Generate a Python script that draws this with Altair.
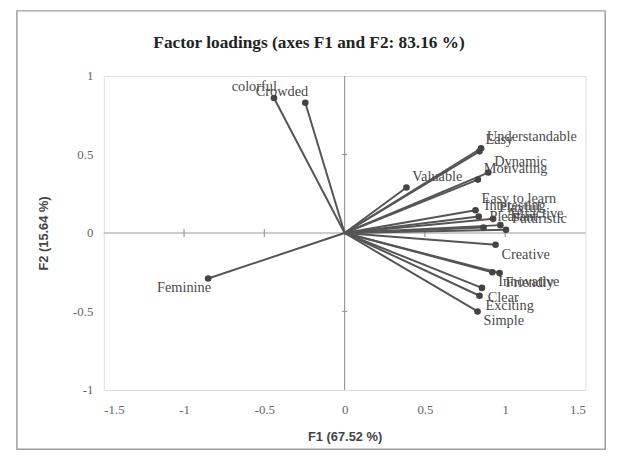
import altair as alt
import pandas as pd

names = ["colorful", "Crowded", "Feminine", "Valuable", "Easy", "Understandable",
         "Motivating", "Dynamic", "Easy to learn", "Interesting", "Playful", "Pleasant",
         "Attractive", "Futuristic", "Creative", "Innovative", "Friendly", "Clear",
         "Exciting", "Simple"]
f1 = [-0.44, -0.245, -0.85, 0.385, 0.84, 0.85, 0.83, 0.895, 0.815, 0.835, 0.925, 0.865,
      0.97, 1.005, 0.94, 0.92, 0.965, 0.855, 0.84, 0.828]
f2 = [0.86, 0.83, -0.29, 0.29, 0.52, 0.54, 0.34, 0.385, 0.145, 0.105, 0.09, 0.035,
      0.05, 0.02, -0.075, -0.25, -0.255, -0.35, -0.40, -0.50]

title_text = "Factor loadings (axes F1 and F2: 83.16 %)"
x_ticks = [-1.5, -1, -0.5, 0, 0.5, 1, 1.5]
y_ticks = [-1, -0.5, 0, 0.5, 1]
x_cross = [-1, -0.5, 0.5, 1]
y_cross = [-0.5, 0.5]

df = pd.DataFrame({"name": names, "F1": f1, "F2": f2})
df["x0"] = 0.0
df["y0"] = 0.0

grey = "#555555"
serif = "Liberation Serif"

xs = alt.Scale(domain=[-1.5, 1.5], nice=False, zero=False)
ys = alt.Scale(domain=[-1, 1], nice=False, zero=False)

xaxis = alt.Axis(values=x_ticks, grid=False, ticks=False, domain=False,
                 labelExpr="datum.value + ''", labelFont=serif, labelFontSize=13,
                 labelColor="#666", labelPadding=14, title="F1 (67.52 %)",
                 titleFont="Liberation Sans", titleFontSize=13, titleFontWeight="bold",
                 titleColor="#444", titlePadding=14)
yaxis = alt.Axis(values=y_ticks, grid=False, ticks=False, domain=False,
                 labelExpr="datum.value + ''", labelFont=serif, labelFontSize=13,
                 labelColor="#666", labelPadding=11, title="F2 (15.64 %)",
                 titleFont="Liberation Sans", titleFontSize=13, titleFontWeight="bold",
                 titleColor="#444", titlePadding=22)

base = alt.Chart(df)

frame = alt.Chart(pd.DataFrame({"a": [0]})).mark_rect(
    fill=None, stroke="#a0a0a0", strokeWidth=1.5
).encode(x=alt.value(-88), x2=alt.value(508), y=alt.value(-66), y2=alt.value(378))

title = alt.Chart(pd.DataFrame({"t": [title_text]})).mark_text(
    font=serif, fontSize=17.5, fontWeight="bold", color="#222", align="center",
    baseline="middle"
).encode(text="t:N", x=alt.value(208), y=alt.value(-33))

zero_v = alt.Chart(pd.DataFrame({"v": [0]})).mark_rule(color="#999", strokeWidth=1.2).encode(
    x=alt.X("v:Q", scale=xs, axis=xaxis))
zero_h = alt.Chart(pd.DataFrame({"v": [0]})).mark_rule(color="#999", strokeWidth=1.2).encode(
    y=alt.Y("v:Q", scale=ys, axis=yaxis))

xc = pd.DataFrame({"v": x_cross})
xc["a"] = -0.025
xc["b"] = 0.025
cross_x = alt.Chart(xc).mark_rule(color="#999", strokeWidth=1.2).encode(
    x=alt.X("v:Q", scale=xs), y=alt.Y("a:Q", scale=ys), y2="b:Q")
yc = pd.DataFrame({"v": y_cross})
yc["a"] = -0.016
yc["b"] = 0.016
cross_y = alt.Chart(yc).mark_rule(color="#999", strokeWidth=1.2).encode(
    y=alt.Y("v:Q", scale=ys), x=alt.X("a:Q", scale=xs), x2="b:Q")

vectors = base.mark_rule(color=grey, strokeWidth=2).encode(
    x=alt.X("x0:Q", scale=xs), x2="F1:Q", y=alt.Y("y0:Q", scale=ys), y2="F2:Q")
points = base.mark_circle(color="#444", opacity=1, size=45).encode(
    x=alt.X("F1:Q", scale=xs), y=alt.Y("F2:Q", scale=ys))

def label_layer(cond, align, baseline, dx, dy):
    return base.transform_filter(cond).mark_text(
        align=align, baseline=baseline, dx=dx, dy=dy, font=serif, fontSize=14.5,
        color="#4a4a4a"
    ).encode(x=alt.X("F1:Q", scale=xs), y=alt.Y("F2:Q", scale=ys), text="name:N")

labels = [
    label_layer("datum.F1 >= 0 && datum.F2 >= 0", "left", "bottom", 6, -4),
    label_layer("datum.F1 >= 0 && datum.F2 < 0", "left", "top", 6, 3),
    label_layer("datum.F1 < 0 && datum.F2 >= 0", "right", "bottom", 3, -4),
    label_layer("datum.F1 < 0 && datum.F2 < 0", "right", "top", 3, 3),
]

chart = alt.layer(frame, title, zero_v, zero_h, cross_x, cross_y, vectors, points,
                  *labels).properties(
    width=488, height=318,
    autosize=alt.AutoSizeParams(type="none"),
    padding={"left": 97, "top": 66, "right": 37, "bottom": 63},
).configure_view(stroke="#999", strokeWidth=1.5).configure(background="white")

chart.save("out.html", embed_options={"renderer": "svg", "actions": False})
